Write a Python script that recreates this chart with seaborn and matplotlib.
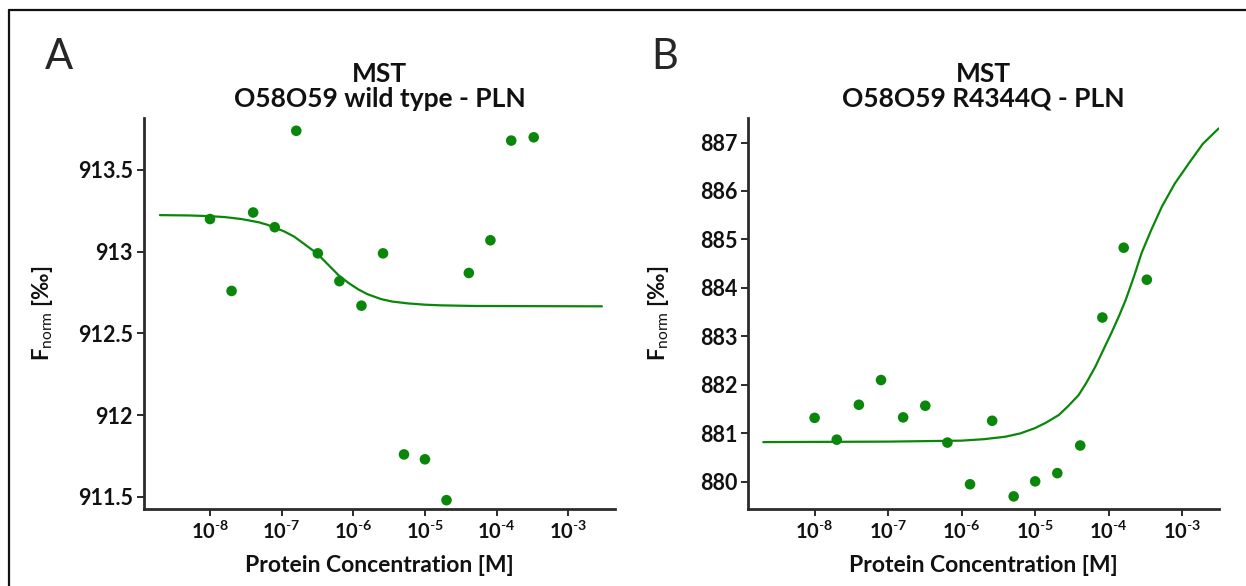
import numpy as np
import pandas as pd
import seaborn as sns
import matplotlib
matplotlib.use('Agg')
import matplotlib.pyplot as plt
from matplotlib.lines import Line2D
from matplotlib.ticker import FixedLocator, NullLocator

# serial dilution of the protein (M), same for both runs
conc = [1.0e-8, 2.0e-8, 4.0e-8, 8.0e-8, 1.6e-7, 3.2e-7, 6.4e-7, 1.3e-6,
        2.6e-6, 5.1e-6, 1.0e-5, 2.0e-5, 4.1e-5, 8.2e-5, 1.6e-4, 3.3e-4]

# panel A - wild type, Fnorm points
fnorm_wt = [913.20, 912.76, 913.24, 913.15, 913.74, 912.99, 912.82, 912.67,
            912.99, 911.76, 911.73, 911.48, 912.87, 913.07, 913.68, 913.70]
# fit curve
fit_wt_x = [2.0e-9, 5.0e-9, 9.5e-9, 1.6e-8, 2.75e-8, 4.8e-8, 6.3e-8, 8.1e-8,
            1.1e-7, 1.5e-7, 2.1e-7, 3.1e-7, 4.5e-7, 6.2e-7, 8.5e-7, 1.17e-6,
            1.58e-6, 2.45e-6, 3.5e-6, 5.75e-6, 1.0e-5, 1.66e-5, 5.0e-5, 2.95e-3]
fit_wt_y = [913.224, 913.222, 913.218, 913.212, 913.20, 913.18, 913.165, 913.147,
            913.123, 913.092, 913.045, 912.99, 912.919, 912.857, 912.81, 912.77,
            912.74, 912.71, 912.695, 912.684, 912.676, 912.672, 912.668, 912.666]

# panel B - R4344Q
fnorm_mut = [881.32, 880.87, 881.59, 882.10, 881.33, 881.57, 880.81, 879.95,
             881.26, 879.70, 880.01, 880.18, 880.75, 883.39, 884.83, 884.17]
fit_mut_x = [2.0e-9, 1.0e-7, 1.0e-6, 2.0e-6, 3.9e-6, 6.3e-6, 1.0e-5, 1.4e-5,
             2.1e-5, 2.8e-5, 3.9e-5, 5.0e-5, 6.6e-5, 8.5e-5, 1.11e-4, 1.38e-4,
             1.7e-4, 2.2e-4, 2.8e-4, 3.8e-4, 5.3e-4, 7.9e-4, 1.23e-3, 1.9e-3, 3.13e-3]
fit_mut_y = [880.82, 880.83, 880.85, 880.88, 880.93, 881.00, 881.11, 881.22,
             881.38, 881.56, 881.79, 882.05, 882.38, 882.73, 883.10, 883.42,
             883.75, 884.23, 884.72, 885.20, 885.68, 886.15, 886.57, 886.97, 887.29]

decades = [1e-8, 1e-7, 1e-6, 1e-5, 1e-4, 1e-3]
decade_labels = [r'$\mathbf{10^{\text{-}8}}$', r'$\mathbf{10^{\text{-}7}}$',
                 r'$\mathbf{10^{\text{-}6}}$', r'$\mathbf{10^{\text{-}5}}$',
                 r'$\mathbf{10^{\text{-}4}}$', r'$\mathbf{10^{\text{-}3}}$']

yt_wt = [911.5, 912, 912.5, 913, 913.5]
yt_wt_labels = ['911.5', '912', '912.5', '913', '913.5']
yt_mut = [880, 881, 882, 883, 884, 885, 886, 887]
yt_mut_labels = ['880', '881', '882', '883', '884', '885', '886', '887']

sns.set_style('ticks')
plt.rcParams['font.family'] = ['Lato', 'DejaVu Sans']
plt.rcParams['mathtext.fontset'] = 'custom'
plt.rcParams['mathtext.rm'] = 'Lato'
plt.rcParams['mathtext.bf'] = 'Lato:bold'
plt.rcParams['mathtext.it'] = 'Lato:italic'

green = '#0a870a'
spine_c = '#2b2b2b'
text_c = '#111111'

fig = plt.figure(figsize=(12.46, 5.86), dpi=100)
ax1 = fig.add_axes([0.1156, 0.1314, 0.378, 0.6672])
ax2 = fig.add_axes([0.6007, 0.1314, 0.3776, 0.6672])


def draw_panel(ax, y, fx, fy, xlim, ylim, yt, ytl, title):
    pts = pd.DataFrame({'conc': conc, 'fnorm': y})
    fit = pd.DataFrame({'conc': fx, 'fnorm': fy})
    sns.lineplot(data=fit, x='conc', y='fnorm', ax=ax, color=green,
                 linewidth=1.6, sort=False, estimator=None)
    sns.scatterplot(data=pts, x='conc', y='fnorm', ax=ax, color=green,
                    s=58, edgecolor='none', zorder=3)
    ax.set_xscale('log')
    ax.set_xlim(*xlim)
    ax.set_ylim(*ylim)
    ax.xaxis.set_major_locator(FixedLocator(decades))
    ax.xaxis.set_minor_locator(NullLocator())
    ax.set_xticklabels(decade_labels)
    ax.set_yticks(yt)
    ax.set_yticklabels(ytl, fontweight='bold')
    ax.tick_params(length=5, width=1.4, color=spine_c, labelcolor=text_c, pad=3)
    ax.tick_params(axis='x', labelsize=14.5)
    ax.tick_params(axis='y', labelsize=15.5)
    for side in ['top', 'right']:
        ax.spines[side].set_visible(False)
    for side in ['left', 'bottom']:
        ax.spines[side].set_linewidth(2)
        ax.spines[side].set_color(spine_c)
    ax.set_xlabel('Protein Concentration [M]', fontsize=16.5, fontweight='bold',
                  labelpad=9, color=text_c)
    ax.set_ylabel(r'$\mathbf{F}_{\mathrm{norm}}$ [‰]', fontsize=16,
                  fontweight='bold', color=text_c)
    ax.yaxis.set_label_coords(-0.19, 0.5)
    ax.set_title(title, fontsize=19, fontweight='bold', pad=8,
                 linespacing=1.05, color=text_c)


draw_panel(ax1, fnorm_wt, fit_wt_x, fit_wt_y, (1.2e-9, 4.5e-3), (911.426, 913.818),
           yt_wt, yt_wt_labels, 'MST\nO58O59 wild type - PLN')
draw_panel(ax2, fnorm_mut, fit_mut_x, fit_mut_y, (1.26e-9, 3.16e-3), (879.44, 887.505),
           yt_mut, yt_mut_labels, 'MST\nO58O59 R4344Q - PLN')
ax2.yaxis.set_label_coords(-0.165, 0.5)

fig.text(0.036, 0.882, 'A', fontsize=30, ha='left', va='baseline')
fig.text(0.523, 0.882, 'B', fontsize=30, ha='left', va='baseline')

# figure frame (left and top edges)
fig.add_artist(Line2D([9 / 1246, 9 / 1246], [0, 1 - 10 / 586], color=text_c, linewidth=1.6))
fig.add_artist(Line2D([9 / 1246, 1], [1 - 10 / 586, 1 - 10 / 586], color=text_c, linewidth=1.6))

fig.savefig('out.png', dpi=100)
